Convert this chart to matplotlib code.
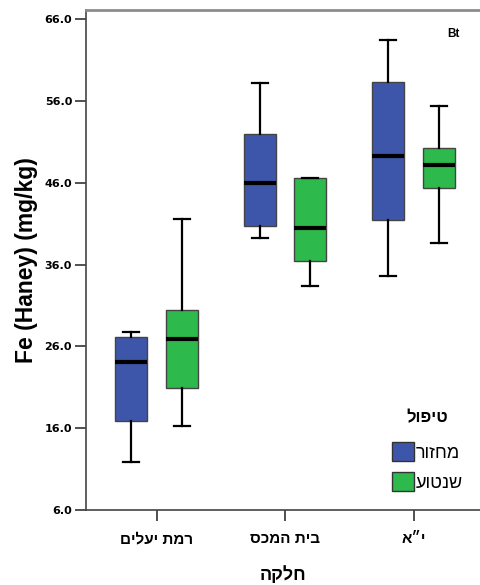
import matplotlib.pyplot as plt
from matplotlib.patches import Patch

# matplotlib lays glyphs out left to right, so Hebrew is typed in visual order
groups = ["רמת יעלים"[::-1], "בית המכס"[::-1], "י״א"[::-1]]
series = ["מחזור"[::-1], "שנטוע"[::-1]]
legend_title = "טיפול"[::-1]
xlabel = "חלקה"[::-1]
ylabel = "Fe (Haney) (mg/kg)"
yticks = [6, 16, 26, 36, 46, 56, 66]

# whisker low, q1, median, q3, whisker high
blue_stats = [
    [11.9, 16.9, 24.1, 27.1, 27.7],
    [39.2, 40.7, 46.0, 51.9, 58.2],
    [34.6, 41.4, 49.3, 58.3, 63.4],
]
green_stats = [
    [16.3, 20.9, 26.9, 30.4, 41.5],
    [33.4, 36.4, 40.5, 46.6, 46.6],
    [38.6, 45.4, 48.2, 50.2, 55.4],
]
colors = ["#3d56a9", "#2db94b"]

plt.rcParams['font.family'] = ['Liberation Sans', 'DejaVu Sans']

fig = plt.figure(figsize=(4.81, 5.85), dpi=100)
ax = fig.add_axes([0.1788, 0.1282, 0.8212, 0.8547])


def to_dicts(rows):
    out = []
    for r in rows:
        out.append({'whislo': r[0], 'q1': r[1], 'med': r[2], 'q3': r[3],
                    'whishi': r[4], 'fliers': []})
    return out


offset = 0.198
width = 0.249
for k, stats in enumerate([blue_stats, green_stats]):
    pos = [i + (offset if k else -offset) for i in range(len(groups))]
    ax.bxp(to_dicts(stats), positions=pos, widths=width, patch_artist=True,
           showfliers=False,
           boxprops=dict(facecolor=colors[k], edgecolor='#444444', linewidth=1.0),
           medianprops=dict(color='black', linewidth=3),
           whiskerprops=dict(color='black', linewidth=1.6),
           capprops=dict(color='black', linewidth=1.6))

ax.set_xlim(-0.5486, 2.525)
ax.set_ylim(6, 67.1)
ax.set_yticks(yticks)
ax.set_yticklabels(["%.1f" % v for v in yticks], fontsize=8, fontweight='bold',
                   family=['DejaVu Sans'])
ax.set_xticks(range(len(groups)))
ax.set_xticklabels(groups, fontsize=11, fontweight='bold')
ax.tick_params(axis='both', length=8, width=1.2, color='#333333', pad=2)
ax.tick_params(axis='x', pad=8)

ax.spines['right'].set_visible(False)
ax.spines['top'].set_color('#8c8c8c')
ax.spines['top'].set_linewidth(2)
ax.spines['left'].set_color('#444444')
ax.spines['left'].set_linewidth(1.2)
ax.spines['bottom'].set_color('#444444')
ax.spines['bottom'].set_linewidth(1.2)

ax.set_ylabel(ylabel, fontsize=16.5, fontweight='bold', labelpad=5)
ax.set_xlabel(xlabel, fontsize=13, fontweight='bold', labelpad=14)

ax.text(0.93, 0.952, "Bt", transform=ax.transAxes, fontsize=8.5,
        fontweight='bold', ha='center', va='center')

handles = [Patch(facecolor=c, edgecolor='#333333', linewidth=1.0) for c in colors]
leg = ax.legend(handles, series, title=legend_title, frameon=False,
                loc='lower left', bbox_to_anchor=(0.734, 0.004),
                fontsize=13, handlelength=1.2, handleheight=1.2,
                handletextpad=0.1, labelspacing=0.6,
                title_fontproperties={'weight': 'bold', 'size': 12})
leg._legend_box.sep = 12

fig.savefig("out.png", dpi=100)
